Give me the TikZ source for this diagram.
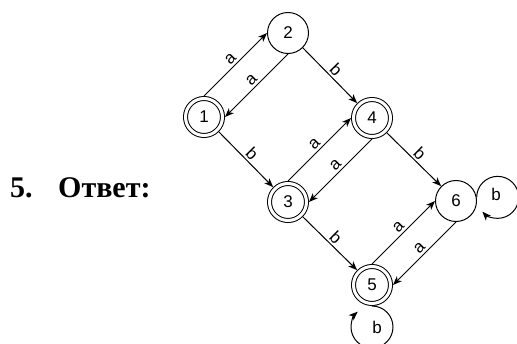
\documentclass[tikz,border=0pt]{standalone}
\usepackage{fontspec}
\setmainfont{Liberation Sans}
\newfontfamily\answerfont{Liberation Serif}
\usetikzlibrary{arrows.meta}
\begin{document}
\begin{tikzpicture}[x=1pt,y=-1pt,
  st/.style={circle,draw,line width=1pt,minimum size=41pt,inner sep=0pt,font=\fontsize{17}{17}\selectfont},
  acc/.style={st,minimum size=37pt,double,double distance=3pt,outer sep=2.5pt},
  tr/.style={line width=1pt,-{Stealth[length=9pt,width=7pt,inset=2.5pt]}},
  lbl/.style={font=\fontsize{17}{17}\selectfont,sloped,above,inner sep=2pt},
  loopl/.style={font=\fontsize{17}{17}\selectfont,inner sep=0pt},
  ans/.style={font=\answerfont\bfseries\fontsize{30}{30}\selectfont,anchor=base west,inner sep=0pt}
]
\useasboundingbox (0,0) rectangle (517,344);
\node[ans] (num) at (10,198) {5.};
\node[ans] (otv) at (58,198) {Ответ:};
\node[acc] (q1) at (204,117) {1};
\node[st]  (q2) at (288,33) {2};
\node[acc] (q3) at (288,202) {3};
\node[acc] (q4) at (372,118) {4};
\node[acc] (q5) at (372,285) {5};
\node[st]  (q6) at (456,201) {6};
\draw[tr] (q1.north) -- node[lbl]{a} (q2.west);
\draw[tr] (q2.south) -- node[lbl]{a} (q1.east);
\draw[tr] (q2.-45) -- node[lbl]{b} (q4.135);
\draw[tr] (q1.-45) -- node[lbl]{b} (q3.135);
\draw[tr] (q3.north) -- node[lbl]{a} (q4.west);
\draw[tr] (q4.south) -- node[lbl]{a} (q3.east);
\draw[tr] (q4.-45) -- node[lbl]{b} (q6.135);
\draw[tr] (q3.-45) -- node[lbl]{b} (q5.135);
\draw[tr] (q5.north) -- node[lbl]{a} (q6.west);
\draw[tr] (q6.south) -- node[lbl]{a} (q5.east);
\draw[tr] (q6.10) arc[start angle=180,end angle=497,radius=21];
\node[loopl] (l6) at (496,194) {b};
\draw[tr] (q5.south) arc[start angle=270,end angle=587,radius=21];
\node[loopl] (l5) at (377,327) {b};
\end{tikzpicture}
\end{document}
